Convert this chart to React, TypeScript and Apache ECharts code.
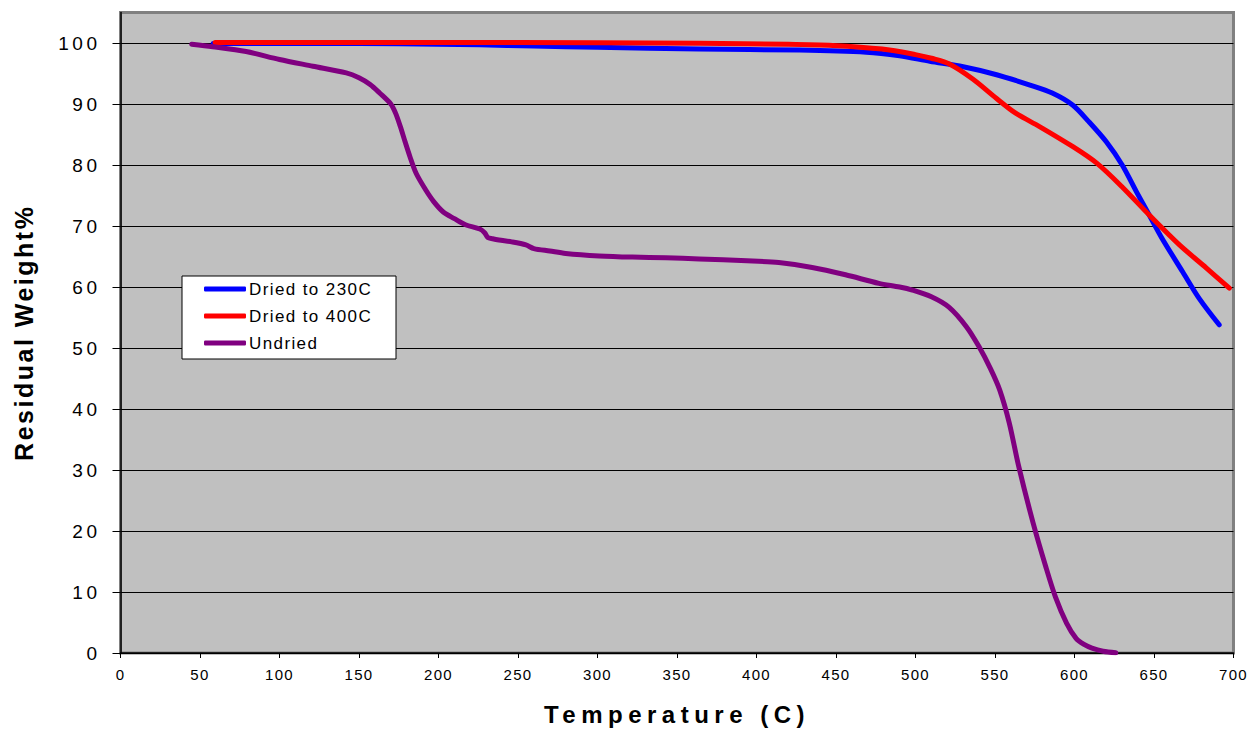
import React, { useEffect, useRef } from "react";
import * as echarts from "echarts";

const seriesNames = ["Dried to 230C", "Dried to 400C", "Undried"];
const seriesColors = ["#0000FF", "#FF0000", "#800080"];

const dried230: [number, number][] = [
  [58.3, 99.9], [100, 99.9], [150, 99.9], [200, 99.8], [226, 99.7], [260, 99.5],
  [300, 99.3], [364, 99.0], [427, 98.85], [469, 98.5], [490, 97.9], [509, 97.0],
  [530, 96.1], [551, 94.8], [572, 93.1], [586, 91.8], [599, 89.8], [609, 87.1],
  [620, 83.8], [630, 80.0], [639, 75.6], [647, 71.8], [655, 68.0], [668, 62.5],
  [678.5, 58.1], [691, 53.8],
];

const dried400: [number, number][] = [
  [59.5, 100.1], [100, 100.1], [200, 100.1], [300, 100.05], [364, 99.95], [420, 99.8],
  [448, 99.6], [479, 99.0], [500, 98.1], [510, 97.5], [521, 96.6], [536, 94.1],
  [551, 90.9], [563, 88.5], [578, 86.3], [599, 83.0], [614, 80.3], [630, 76.4],
  [647, 71.8], [666, 66.9], [683, 63.1], [697.4, 59.8],
];

const undried: [number, number][] = [
  [44.8, 99.8], [58, 99.4], [79, 98.6], [100, 97.3], [121, 96.2], [142, 95.1],
  [150, 94.3], [157, 93.2], [163, 91.8], [170, 90.0], [173, 88.5], [176, 86.3],
  [179, 83.8], [182, 81.4], [186, 78.6], [192, 75.9], [197, 74.0], [203, 72.3],
  [210, 71.2], [217, 70.2], [226, 69.5], [229, 68.9], [231, 68.1], [234, 67.9],
  [238, 67.7], [246, 67.4], [255, 66.9], [260, 66.3], [270, 65.9], [280, 65.5],
  [301, 65.1], [322, 64.9], [343, 64.8], [364, 64.6], [394, 64.3], [414, 64.0],
  [435, 63.2], [456, 62.0], [477, 60.6], [490, 60.0], [498, 59.5], [510, 58.4],
  [521, 56.7], [532, 53.5], [540, 50.2], [547, 46.7], [553, 43.1], [559, 37.7],
  [565, 30.5], [574, 21.3], [582, 14.1], [588, 9.2], [595, 4.9], [601, 2.4],
  [606, 1.4], [611, 0.8], [618, 0.3], [626, 0.05],
];

const yTickValues = [0, 10, 20, 30, 40, 50, 60, 70, 80, 90, 100];
const xAxisTitle = "Temperature (C)";
const yAxisTitle = "Residual Weight%";

const FONT = "Liberation Sans, Arial, sans-serif";

const spacingCss = `
#tga-chart text[style*="24px"] { letter-spacing: 5.5px; }
#tga-chart text[style*="25px"] { letter-spacing: 2.5px; }
#tga-chart text[style*="17px"] { letter-spacing: 1.4px; }
#tga-chart text[style*="19px"] { letter-spacing: 3.5px; }
#tga-chart text[style*="15px"] { letter-spacing: 1.3px; }
`;

export default function App() {
  const ref = useRef<HTMLDivElement>(null);
  useEffect(() => {
    if (!ref.current) return;
    const chart = echarts.init(ref.current, null, { renderer: "svg" });
    const allData = [dried230, dried400, undried];
    chart.setOption({
      animation: false,
      backgroundColor: "#ffffff",
      grid: {
        left: 120.5,
        right: 15,
        top: 12.5,
        bottom: 78,
        show: true,
        backgroundColor: "#C0C0C0",
        borderColor: "#808080",
        borderWidth: 3,
      },
      legend: {
        orient: "vertical",
        left: 182,
        top: 276,
        backgroundColor: "#ffffff",
        borderColor: "#000000",
        borderWidth: 1,
        borderRadius: 0,
        padding: [3, 25, 6, 22],
        itemGap: 7,
        itemWidth: 42,
        itemHeight: 5,
        icon: "roundRect",
        data: seriesNames,
        textStyle: {
          fontFamily: FONT,
          fontSize: 17,
          color: "#000000",
          lineHeight: 20,
          width: 122,
          padding: [0, 0, 0, -2],
        },
      },
      xAxis: {
        type: "value",
        min: 0,
        max: 700,
        interval: 50,
        name: xAxisTitle,
        nameLocation: "middle",
        nameGap: 49,
        nameTextStyle: {
          fontFamily: FONT,
          fontWeight: "bold",
          fontSize: 24,
          color: "#000000",
        },
        axisLine: { show: true, onZero: false, lineStyle: { color: "#000000", width: 1.5 } },
        axisTick: { show: true, length: 5, lineStyle: { color: "#000000", width: 1 } },
        axisLabel: {
          margin: 14,
          fontFamily: FONT,
          fontSize: 15,
          color: "#000000",
        },
        splitLine: { show: false },
      },
      yAxis: {
        type: "value",
        min: 0,
        max: 105,
        interval: 10,
        name: yAxisTitle,
        nameLocation: "middle",
        nameGap: 84,
        nameTextStyle: {
          fontFamily: FONT,
          fontWeight: "bold",
          fontSize: 25,
          color: "#000000",
        },
        axisLine: { show: true, onZero: false, lineStyle: { color: "#000000", width: 1.5 } },
        axisTick: {
          show: true,
          length: 8,
          customValues: yTickValues,
          lineStyle: { color: "#000000", width: 1 },
        },
        axisLabel: {
          margin: 20,
          customValues: yTickValues,
          fontFamily: FONT,
          fontSize: 19,
          color: "#000000",
        },
        splitLine: { show: true, lineStyle: { color: "#000000", width: 1 } },
      },
      series: seriesNames.map((name, i) => ({
        name,
        type: "line",
        data: allData[i],
        showSymbol: false,
        smooth: 0.3,
        color: seriesColors[i],
        lineStyle: { width: 5, color: seriesColors[i], cap: "round", join: "round" },
        emphasis: { disabled: true },
      })),
    });
    return () => chart.dispose();
  }, []);
  return (
    <>
      <style>{spacingCss}</style>
      <div
        id="tga-chart"
        ref={ref}
        style={{ width: 1249, height: 731, position: "absolute", left: 0, top: 0 }}
      />
    </>
  );
}
